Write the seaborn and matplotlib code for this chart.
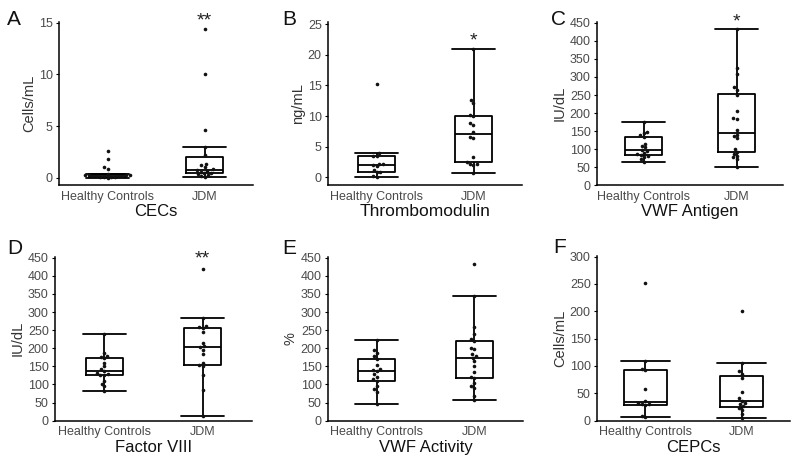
import pandas as pd
import matplotlib
matplotlib.use('Agg')
import matplotlib.pyplot as plt
import seaborn as sns

groups = ['Healthy Controls', 'JDM']

# A - circulating endothelial cells (cells/mL)
cec_hc = [0.0, 0.05, 0.1, 0.1, 0.1, 0.15, 0.15, 0.2, 0.2, 0.25, 0.25, 0.3,
          0.3, 0.4, 0.8, 1.0, 1.8, 2.6]
cec_jdm = [0.1, 0.2, 0.3, 0.4, 0.45, 0.5, 0.6, 0.7, 0.75, 0.8, 1.0, 1.2,
           1.3, 2.2, 3.0, 4.6, 10.0, 14.4]

# B - thrombomodulin (ng/mL)
tm_hc = [0.1, 0.3, 0.8, 0.8, 1.2, 1.8, 2.0, 2.2, 2.2, 3.5, 3.5, 4.0, 15.2]
tm_jdm = [0.7, 2.0, 2.1, 2.2, 2.5, 3.3, 6.5, 6.6, 7.4, 8.5, 8.8, 10.0,
          10.2, 12.2, 12.7, 20.9]

# C - VWF antigen (IU/dL)
vwfag_hc = [65, 72, 78, 80, 83, 86, 90, 95, 99, 105, 110, 115, 134, 140,
            145, 148, 175]
vwfag_jdm = [52, 72, 78, 82, 88, 92, 100, 130, 137, 140, 152, 183, 187, 206,
             250, 264, 271, 308, 324, 432]

# D - factor VIII (IU/dL)
f8_hc = [82, 95, 102, 110, 126, 127, 128, 132, 138, 142, 150, 160, 172, 175,
         178, 187, 240]
f8_jdm = [12, 85, 125, 150, 155, 160, 185, 195, 203, 205, 215, 245, 257, 260,
          262, 285, 420]

# E - VWF activity (%)
vwfact_hc = [46, 80, 88, 95, 110, 115, 122, 130, 138, 140, 142, 155, 171,
             178, 188, 196, 222]
vwfact_jdm = [58, 69, 90, 96, 105, 118, 122, 135, 150, 165, 174, 180, 185,
              198, 201, 221, 226, 240, 259, 344, 434]

# F - circulating endothelial progenitor cells (cells/mL)
cepc_hc = [6, 8, 28, 30, 30, 32, 36, 58, 92, 95, 110, 251]
cepc_jdm = [5, 12, 20, 24, 26, 30, 32, 36, 41, 52, 78, 86, 90, 105, 200]

sns.set_theme(style='ticks')
plt.rcParams['font.family'] = ['Liberation Sans', 'DejaVu Sans']

W, H = 800, 466
fig = plt.figure(figsize=(8, 4.66), dpi=100)

panels = [
    dict(letter='A', title='CECs', ylabel='Cells/mL', hc=cec_hc, jdm=cec_jdm,
         box=(59, 21.7, 253, 185), ylim=(-0.7, 15.1), ticks=range(0, 16, 5),
         star='**', star_y=14.75, lpos=(7, 25), width=0.38),
    dict(letter='B', title='Thrombomodulin', ylabel='ng/mL', hc=tm_hc, jdm=tm_jdm,
         box=(328, 21.7, 522, 185), ylim=(-1.25, 25.4), ticks=range(0, 26, 5),
         star='*', star_y=21.5, lpos=(282, 25), width=0.38),
    dict(letter='C', title='VWF Antigen', ylabel='IU/dL', hc=vwfag_hc, jdm=vwfag_jdm,
         box=(597, 21.7, 783, 185.3), ylim=(0, 453), ticks=range(0, 451, 50),
         star='*', star_y=439, lpos=(551, 25), width=0.4),
    dict(letter='D', title='Factor VIII', ylabel='IU/dL', hc=f8_hc, jdm=f8_jdm,
         box=(55, 256.7, 252, 420.7), ylim=(0, 453), ticks=range(0, 451, 50),
         star='**', star_y=435, lpos=(7, 254), width=0.38),
    dict(letter='E', title='VWF Activity', ylabel='%', hc=vwfact_hc, jdm=vwfact_jdm,
         box=(328, 256.7, 523, 420.7), ylim=(0, 453), ticks=range(0, 451, 50),
         star=None, star_y=None, lpos=(282, 254), width=0.38),
    dict(letter='F', title='CEPCs', ylabel='Cells/mL', hc=cepc_hc, jdm=cepc_jdm,
         box=(597, 255.5, 790, 420.7), ylim=(0, 302), ticks=range(0, 301, 50),
         star=None, star_y=None, lpos=(553, 253), width=0.45),
]

for p in panels:
    x0, y0, x1, y1 = p['box']
    ax = fig.add_axes([x0 / W, 1 - y1 / H, (x1 - x0) / W, (y1 - y0) / H])
    df = pd.DataFrame({
        'group': [groups[0]] * len(p['hc']) + [groups[1]] * len(p['jdm']),
        'value': list(p['hc']) + list(p['jdm']),
    })
    sns.boxplot(data=df, x='group', y='value', order=groups, ax=ax,
                fill=False, color='black', linecolor='black', linewidth=1.3,
                width=p['width'], whis=1.5, showfliers=False,
                capwidths=[p['width'] + 0.06, p['width'] + 0.06])
    sns.swarmplot(data=df, x='group', y='value', order=groups, ax=ax,
                  color='#111111', size=2.6, linewidth=0, zorder=3)

    ax.set_xlim(-0.5, 1.5)
    ax.set_ylim(*p['ylim'])
    ax.set_yticks(list(p['ticks']))
    sns.despine(ax=ax)
    for s in ['left', 'bottom']:
        ax.spines[s].set_linewidth(1.1)
        ax.spines[s].set_color('black')
    ax.tick_params(axis='y', length=2.5, width=0.8, pad=2, labelsize=9,
                   labelcolor='#4a4a4a', color='black')
    ax.tick_params(axis='x', length=0, pad=4, labelsize=9, labelcolor='#4a4a4a')
    ax.set_xlabel(p['title'], fontsize=12.5 if p['letter'] == 'B' else 12,
                  color='#111111', labelpad=1)
    ax.set_ylabel(p['ylabel'], fontsize=10.5, color='#333333', labelpad=2)

    if p['star']:
        ax.text(1, p['star_y'], p['star'], ha='center', va='baseline',
                fontsize=14, color='#222222', clip_on=False)

    lx, ly = p['lpos']
    fig.text(lx / W, 1 - ly / H, p['letter'], fontsize=15, color='#111111',
             ha='left', va='baseline')

fig.savefig('out.png', dpi=100)
